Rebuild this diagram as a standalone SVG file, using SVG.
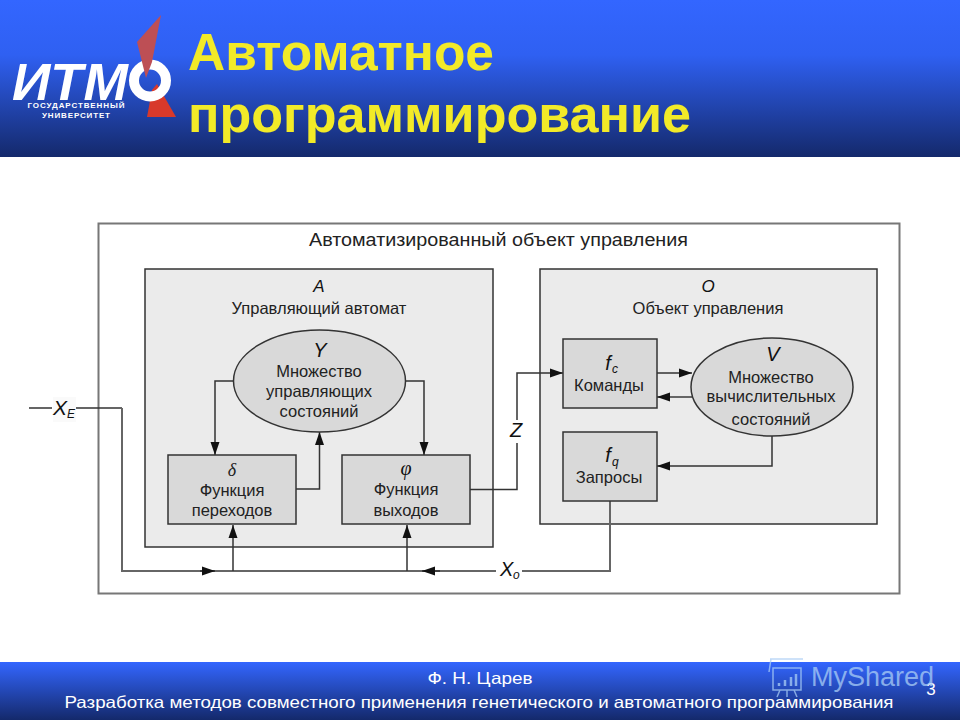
<svg xmlns="http://www.w3.org/2000/svg" width="960" height="720" viewBox="0 0 960 720">
<defs>
<linearGradient id="top" x1="0" y1="0" x2="0" y2="1"><stop offset="0" stop-color="#3366ff"/><stop offset="0.35" stop-color="#2f60f2"/><stop offset="1" stop-color="#14296b"/></linearGradient>
<linearGradient id="bot" x1="0" y1="0" x2="0" y2="1"><stop offset="0" stop-color="#3366ff"/><stop offset="1" stop-color="#14296b"/></linearGradient>
<marker id="ah" markerUnits="userSpaceOnUse" markerWidth="14" markerHeight="10" refX="13" refY="5" orient="auto"><path d="M0 0.500L13 5L0 9.500Z" fill="#111"/></marker>
</defs>
<style>
text{font-family:"Liberation Sans",Arial,sans-serif}
.b{fill:#d9d9d9;stroke:#333;stroke-width:1.5}
.p{fill:#ebebeb;stroke:#333;stroke-width:1.5}
.t{font-size:16.500px;fill:#222;text-anchor:middle}
.i{font-style:italic;font-size:20px;fill:#111;text-anchor:middle}
.s{font-style:italic;font-size:12px;fill:#111}
.c{fill:none;stroke:#333;stroke-width:1.5}
.g{fill:none;stroke:#666;stroke-width:2}
</style>
<rect width="960" height="720" fill="#fff"/>
<g id="header">
<rect width="960" height="157" fill="url(#top)"/>
<path d="M147 117L176 117L157 84L152 90Z" fill="#d8392b"/>
<circle cx="150" cy="80.500" r="16" fill="none" stroke="#fff" stroke-width="10"/>
<path d="M161 15L137 42L146 78L152 62Z" fill="#bd4f55"/>
<text x="12" y="100" font-size="52" font-weight="bold" font-style="italic" fill="#fff" textLength="116" lengthAdjust="spacingAndGlyphs">ИТМ</text>
<text x="76" y="108" font-size="8" font-weight="bold" fill="#fff" text-anchor="middle" textLength="97">ГОСУДАРСТВЕННЫЙ</text>
<text x="76" y="118" font-size="8" font-weight="bold" fill="#fff" text-anchor="middle" textLength="68">УНИВЕРСИТЕТ</text>
<text x="188" y="70" font-size="51.500" font-weight="bold" fill="#f2ea28">Автоматное</text>
<text x="188" y="132" font-size="52" font-weight="bold" fill="#f2ea28" textLength="503" lengthAdjust="spacingAndGlyphs">программирование</text>
</g>
<g id="outer">
<rect x="98.500" y="223.500" width="801" height="370" fill="#fff" stroke="#777" stroke-width="2"/>
<text x="498.500" y="246" font-size="17.500" fill="#222" text-anchor="middle" textLength="379" lengthAdjust="spacingAndGlyphs">Автоматизированный объект управления</text>
</g>
<g id="panel-a">
<rect class="p" x="145" y="269" width="348" height="278"/>
<text class="i" x="319" y="292" style="font-size:17px">A</text>
<text class="t" x="319" y="314">Управляющий автомат</text>
</g>
<g id="panel-o">
<rect class="p" x="540" y="269" width="337" height="255"/>
<text class="i" x="708" y="292" style="font-size:17px">O</text>
<text class="t" x="708" y="314">Объект управления</text>
</g>
<g id="connectors">
<path class="c" d="M29 408H52M76 408H122"/>
<path class="g" d="M122 408V571H496"/>
<path class="g" d="M522 571H610V501"/>
<path class="c" d="M200 571H215" marker-end="url(#ah)"/>
<path class="c" d="M440 571H422" marker-end="url(#ah)"/>
<path class="c" d="M233 571V525" marker-end="url(#ah)"/>
<path class="c" d="M407 571V525" marker-end="url(#ah)"/>
<path class="c" d="M234 381H215V455" marker-end="url(#ah)"/>
<path class="c" d="M296 489H319.500V432" marker-end="url(#ah)"/>
<path class="c" d="M405 381H424V455" marker-end="url(#ah)"/>
<path class="c" d="M470 489.500H517V443M517 420V373H563" marker-end="url(#ah)"/>
<path class="c" d="M657 373H692" marker-end="url(#ah)"/>
<path class="g" d="M692 397H657" marker-end="url(#ah)"/>
<path class="c" d="M772 436V466H657" marker-end="url(#ah)"/>
</g>
<g id="node-y">
<ellipse class="b" cx="319.500" cy="381" rx="86" ry="51"/>
<text class="i" x="320" y="357">Y</text>
<text class="t" x="319" y="377">Множество</text>
<text class="t" x="319" y="397">управляющих</text>
<text class="t" x="319" y="417">состояний</text>
</g>
<g id="node-delta">
<rect class="b" x="168" y="455" width="128" height="69"/>
<text x="232" y="476" font-size="18" font-style="italic" text-anchor="middle" fill="#222" style="font-family:'Liberation Serif',serif">δ</text>
<text class="t" x="232" y="496">Функция</text>
<text class="t" x="232" y="516">переходов</text>
</g>
<g id="node-phi">
<rect class="b" x="342" y="455" width="128" height="69"/>
<text x="406" y="475" font-size="20" font-style="italic" text-anchor="middle" fill="#111" style="font-family:'Liberation Serif',serif">φ</text>
<text class="t" x="406" y="495">Функция</text>
<text class="t" x="406" y="516">выходов</text>
</g>
<g id="node-fc">
<rect class="b" x="563" y="339" width="94" height="69"/>
<text class="i" x="608" y="370">f</text>
<text class="s" x="612" y="373">c</text>
<text class="t" x="609" y="391">Команды</text>
</g>
<g id="node-fq">
<rect class="b" x="563" y="432" width="94" height="69"/>
<text class="i" x="608" y="462">f</text>
<text class="s" x="612" y="466">q</text>
<text class="t" x="609" y="483">Запросы</text>
</g>
<g id="node-v">
<ellipse class="b" cx="772" cy="387" rx="81" ry="49"/>
<text class="i" x="773" y="361">V</text>
<text class="t" x="771" y="383">Множество</text>
<text class="t" x="771" y="402">вычислительных</text>
<text class="t" x="771" y="425">состояний</text>
</g>
<g id="labels">
<rect x="53" y="397" width="23" height="25" fill="#fafafa"/>
<text x="53" y="415" font-size="21" font-style="italic" fill="#111">X</text>
<text x="67" y="418" class="s">E</text>
<text x="500" y="576" font-size="20" font-style="italic" fill="#111">X</text>
<text x="513" y="579" class="s">o</text>
<text x="516" y="437" class="i">Z</text>
</g>
<g id="footer">
<rect y="662" width="960" height="58" fill="url(#bot)"/>
<text x="480" y="684" font-size="16.500" fill="#fff" text-anchor="middle" textLength="105" lengthAdjust="spacingAndGlyphs">Ф. Н. Царев</text>
<text x="479" y="708" font-size="16.500" fill="#fff" text-anchor="middle" textLength="829" lengthAdjust="spacingAndGlyphs">Разработка методов совместного применения генетического и автоматного программирования</text>
<text x="931" y="695" font-size="17" fill="#fff" text-anchor="middle">3</text>
</g>
<g id="watermark" opacity="0.75">
<path d="M770 659H803M771 659L769 672M773 668H801V690H773ZM780 690L777 697M787 690V697M794 690L797 697" fill="none" stroke="#a9cdf5" stroke-width="1.500"/>
<path d="M779 686v-3M785 686v-6M791 686v-9M796 686v-12" fill="none" stroke="#a9cdf5" stroke-width="2.500"/>
<text x="811" y="686" font-size="27" fill="#a9cdf5">MyShared</text>
</g>
</svg>
